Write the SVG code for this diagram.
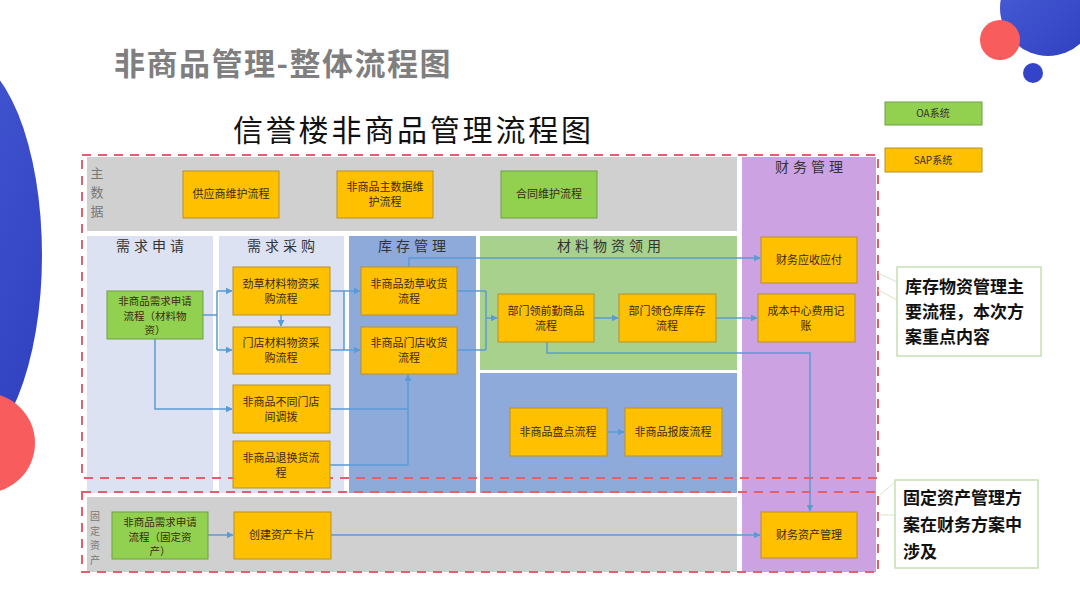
<svg xmlns="http://www.w3.org/2000/svg" width="1080" height="608" viewBox="0 0 1080 608">
<defs>
<marker id="arr" viewBox="0 0 10 10" refX="9" refY="5" markerWidth="7" markerHeight="7" markerUnits="userSpaceOnUse" orient="auto">
<path d="M0,0 L10,5 L0,10 z" fill="#5b9bd5"/>
</marker>
<linearGradient id="blueg" x1="0" y1="0" x2="1" y2="1">
<stop offset="0" stop-color="#4a5fd8"/>
<stop offset="1" stop-color="#2f3fbf"/>
</linearGradient>
</defs>
<style>
text{font-family:"Noto Sans CJK SC","Noto Sans",sans-serif;}
.nt{font-size:11px;fill:#3a2c10;text-anchor:middle;}
.nt3{font-size:10.5px;fill:#3a2c10;text-anchor:middle;}
.org{fill:#ffc000;stroke:#b8902a;stroke-width:1;}
.grn{fill:#92d050;stroke:#6f9f45;stroke-width:1;}
.hd{font-size:14px;fill:#333;text-anchor:middle;letter-spacing:4px;}
.side{font-size:13px;fill:#777;text-anchor:middle;}
.side2{font-size:10px;fill:#777;text-anchor:middle;}
.dash{fill:none;stroke:#e06070;stroke-width:2;stroke-dasharray:9 7;}
.cn{fill:none;stroke:#5b9bd5;stroke-width:1.5;}
.ca{fill:none;stroke:#5b9bd5;stroke-width:1.5;marker-end:url(#arr);}
.co{font-size:17px;font-weight:bold;fill:#111;}
.cob{fill:#fff;stroke:#c5e0b4;stroke-width:1.5;}
</style>

<!-- decorations -->
<ellipse cx="-40" cy="255" rx="82" ry="200" fill="url(#blueg)"/>
<circle cx="-15" cy="443" r="50" fill="#f95c5c"/>
<circle cx="1048" cy="8" r="48" fill="url(#blueg)"/>
<circle cx="1000" cy="40" r="20" fill="#f95c5c"/>
<circle cx="1033" cy="73" r="10" fill="#3344c8"/>

<text x="114" y="75" font-size="31" font-weight="bold" fill="#7f7f7f" letter-spacing="1.5">非商品管理-整体流程图</text>
<text x="233" y="141" font-size="30" fill="#111" letter-spacing="2.8">信誉楼非商品管理流程图</text>

<!-- legend -->
<g id="legend-oa"><rect x="885" y="102" width="97" height="23" class="grn"/><text x="933" y="117" font-size="10" fill="#333" text-anchor="middle">OA系统</text></g>
<g id="legend-sap"><rect x="885" y="148" width="97" height="24" class="org"/><text x="933" y="164" font-size="10" fill="#333" text-anchor="middle">SAP系统</text></g>

<!-- panels -->
<g id="panels">
<rect x="87" y="157" width="650" height="74" fill="#d0d0d0"/>
<rect x="742" y="157" width="134" height="415" fill="#cda2e3"/>
<rect x="87" y="236" width="126" height="257" fill="#dce2f2"/>
<rect x="219" y="236" width="125" height="257" fill="#dce2f2"/>
<rect x="349" y="236" width="127" height="257" fill="#8eaadb"/>
<rect x="480" y="236" width="257" height="134" fill="#a9d18e"/>
<rect x="480" y="373" width="257" height="120" fill="#8eaadb"/>
<rect x="87" y="497" width="650" height="75" fill="#d0d0d0"/>
<text class="side" x="97" y="178">主</text>
<text class="side" x="97" y="197">数</text>
<text class="side" x="97" y="216">据</text>
<text class="side2" x="95" y="520">固</text>
<text class="side2" x="95" y="534.5">定</text>
<text class="side2" x="95" y="549">资</text>
<text class="side2" x="95" y="563.5">产</text>
<text class="hd" x="152" y="251">需求申请</text>
<text class="hd" x="283" y="251">需求采购</text>
<text class="hd" x="414" y="251">库存管理</text>
<text class="hd" x="611" y="251">材料物资领用</text>
<text class="hd" x="811" y="172">财务管理</text>
</g>

<rect class="dash" x="82" y="155" width="796" height="323"/>
<rect class="dash" x="82" y="492" width="796" height="80"/>

<!-- connectors -->
<g id="connectors">
<path class="cn" d="M203,315 H217 M217,291 V350"/>
<path class="ca" d="M217,291 H232"/>
<path class="ca" d="M217,350 H232"/>
<path class="ca" d="M281,315 V326"/>
<path class="ca" d="M155,339 V409 H232"/>
<path class="cn" d="M330,291 H344 M330,350 H344 M344,291 V350"/>
<path class="ca" d="M344,291 H360"/>
<path class="ca" d="M344,350 H360"/>
<path class="cn" d="M330,409 H408 M330,465 H408"/>
<path class="ca" d="M408,465 V375"/>
<path class="cn" d="M457,291 H486 M457,350 H486 M486,291 V350"/>
<path class="ca" d="M486,318 H497"/>
<path class="ca" d="M409,267 V258 H760"/>
<path class="ca" d="M594,318 H618"/>
<path class="ca" d="M716,318 H757"/>
<path class="ca" d="M547,342 V353 H810 V511"/>
<path class="ca" d="M607,432 H624"/>
<path class="ca" d="M208,535 H233"/>
<path class="ca" d="M331,535 H760"/>
</g>

<!-- nodes -->
<g id="n-supplier"><rect class="org" x="183" y="171" width="96" height="47"/><text class="nt" x="231" y="198">供应商维护流程</text></g>
<g id="n-masterdata"><rect class="org" x="337" y="171" width="96" height="47"/><text class="nt" x="385" y="191">非商品主数据维</text><text class="nt" x="385" y="206">护流程</text></g>
<g id="n-contract"><rect class="grn" x="501" y="171" width="96" height="47"/><text class="nt" x="549" y="198">合同维护流程</text></g>

<g id="n-demand"><rect class="grn" x="107" y="291" width="96" height="48"/><text class="nt3" x="155" y="305">非商品需求申请</text><text class="nt3" x="155" y="319.5">流程（材料物</text><text class="nt3" x="155" y="334">资）</text></g>

<g id="n-jc-purchase"><rect class="org" x="233" y="267" width="97" height="48"/><text class="nt" x="281" y="288">劲草材料物资采</text><text class="nt" x="281" y="303">购流程</text></g>
<g id="n-store-purchase"><rect class="org" x="233" y="327" width="97" height="47"/><text class="nt" x="281" y="347">门店材料物资采</text><text class="nt" x="281" y="362">购流程</text></g>
<g id="n-transfer"><rect class="org" x="233" y="385" width="97" height="48"/><text class="nt" x="281" y="406">非商品不同门店</text><text class="nt" x="281" y="421">间调拨</text></g>
<g id="n-return"><rect class="org" x="233" y="441" width="97" height="47"/><text class="nt" x="281" y="462">非商品退换货流</text><text class="nt" x="281" y="477">程</text></g>

<g id="n-jc-receive"><rect class="org" x="361" y="267" width="96" height="48"/><text class="nt" x="409" y="288">非商品劲草收货</text><text class="nt" x="409" y="303">流程</text></g>
<g id="n-store-receive"><rect class="org" x="361" y="327" width="96" height="47"/><text class="nt" x="409" y="347">非商品门店收货</text><text class="nt" x="409" y="362">流程</text></g>

<g id="n-dept-front"><rect class="org" x="498" y="294" width="96" height="48"/><text class="nt" x="546" y="315">部门领前勤商品</text><text class="nt" x="546" y="330">流程</text></g>
<g id="n-dept-wh"><rect class="org" x="619" y="294" width="97" height="48"/><text class="nt" x="667" y="315">部门领仓库库存</text><text class="nt" x="667" y="330">流程</text></g>

<g id="n-count"><rect class="org" x="510" y="408" width="97" height="48"/><text class="nt" x="558" y="436">非商品盘点流程</text></g>
<g id="n-scrap"><rect class="org" x="625" y="408" width="97" height="48"/><text class="nt" x="673" y="436">非商品报废流程</text></g>

<g id="n-ar-ap"><rect class="org" x="761" y="237" width="96" height="46"/><text class="nt" x="809" y="264">财务应收应付</text></g>
<g id="n-cost"><rect class="org" x="758" y="294" width="97" height="48"/><text class="nt" x="806" y="315">成本中心费用记</text><text class="nt" x="806" y="330">账</text></g>
<g id="n-asset-mgmt"><rect class="org" x="761" y="512" width="96" height="46"/><text class="nt" x="809" y="539">财务资产管理</text></g>

<g id="n-fa-demand"><rect class="grn" x="112" y="512" width="96" height="47"/><text class="nt3" x="160" y="526">非商品需求申请</text><text class="nt3" x="160" y="540.5">流程（固定资</text><text class="nt3" x="160" y="555">产）</text></g>
<g id="n-card"><rect class="org" x="234" y="512" width="97" height="47"/><text class="nt" x="282" y="539">创建资产卡片</text></g>

<!-- callouts -->
<g id="callout-1">
<path d="M878,273 L897,282 M878,290 L897,300" fill="none" stroke="#d6e8c8" stroke-width="1"/>
<rect class="cob" x="897" y="267" width="144" height="89"/>
<text class="co" x="905" y="293">库存物资管理主</text>
<text class="co" x="905" y="318">要流程，本次方</text>
<text class="co" x="905" y="343">案重点内容</text>
</g>
<g id="callout-2">
<path d="M880,495 L895,482 M880,515 H895" fill="none" stroke="#d6e8c8" stroke-width="1"/>
<rect class="cob" x="895" y="480" width="143" height="88"/>
<text class="co" x="903" y="504">固定资产管理方</text>
<text class="co" x="903" y="531">案在财务方案中</text>
<text class="co" x="903" y="558">涉及</text>
</g>
</svg>
